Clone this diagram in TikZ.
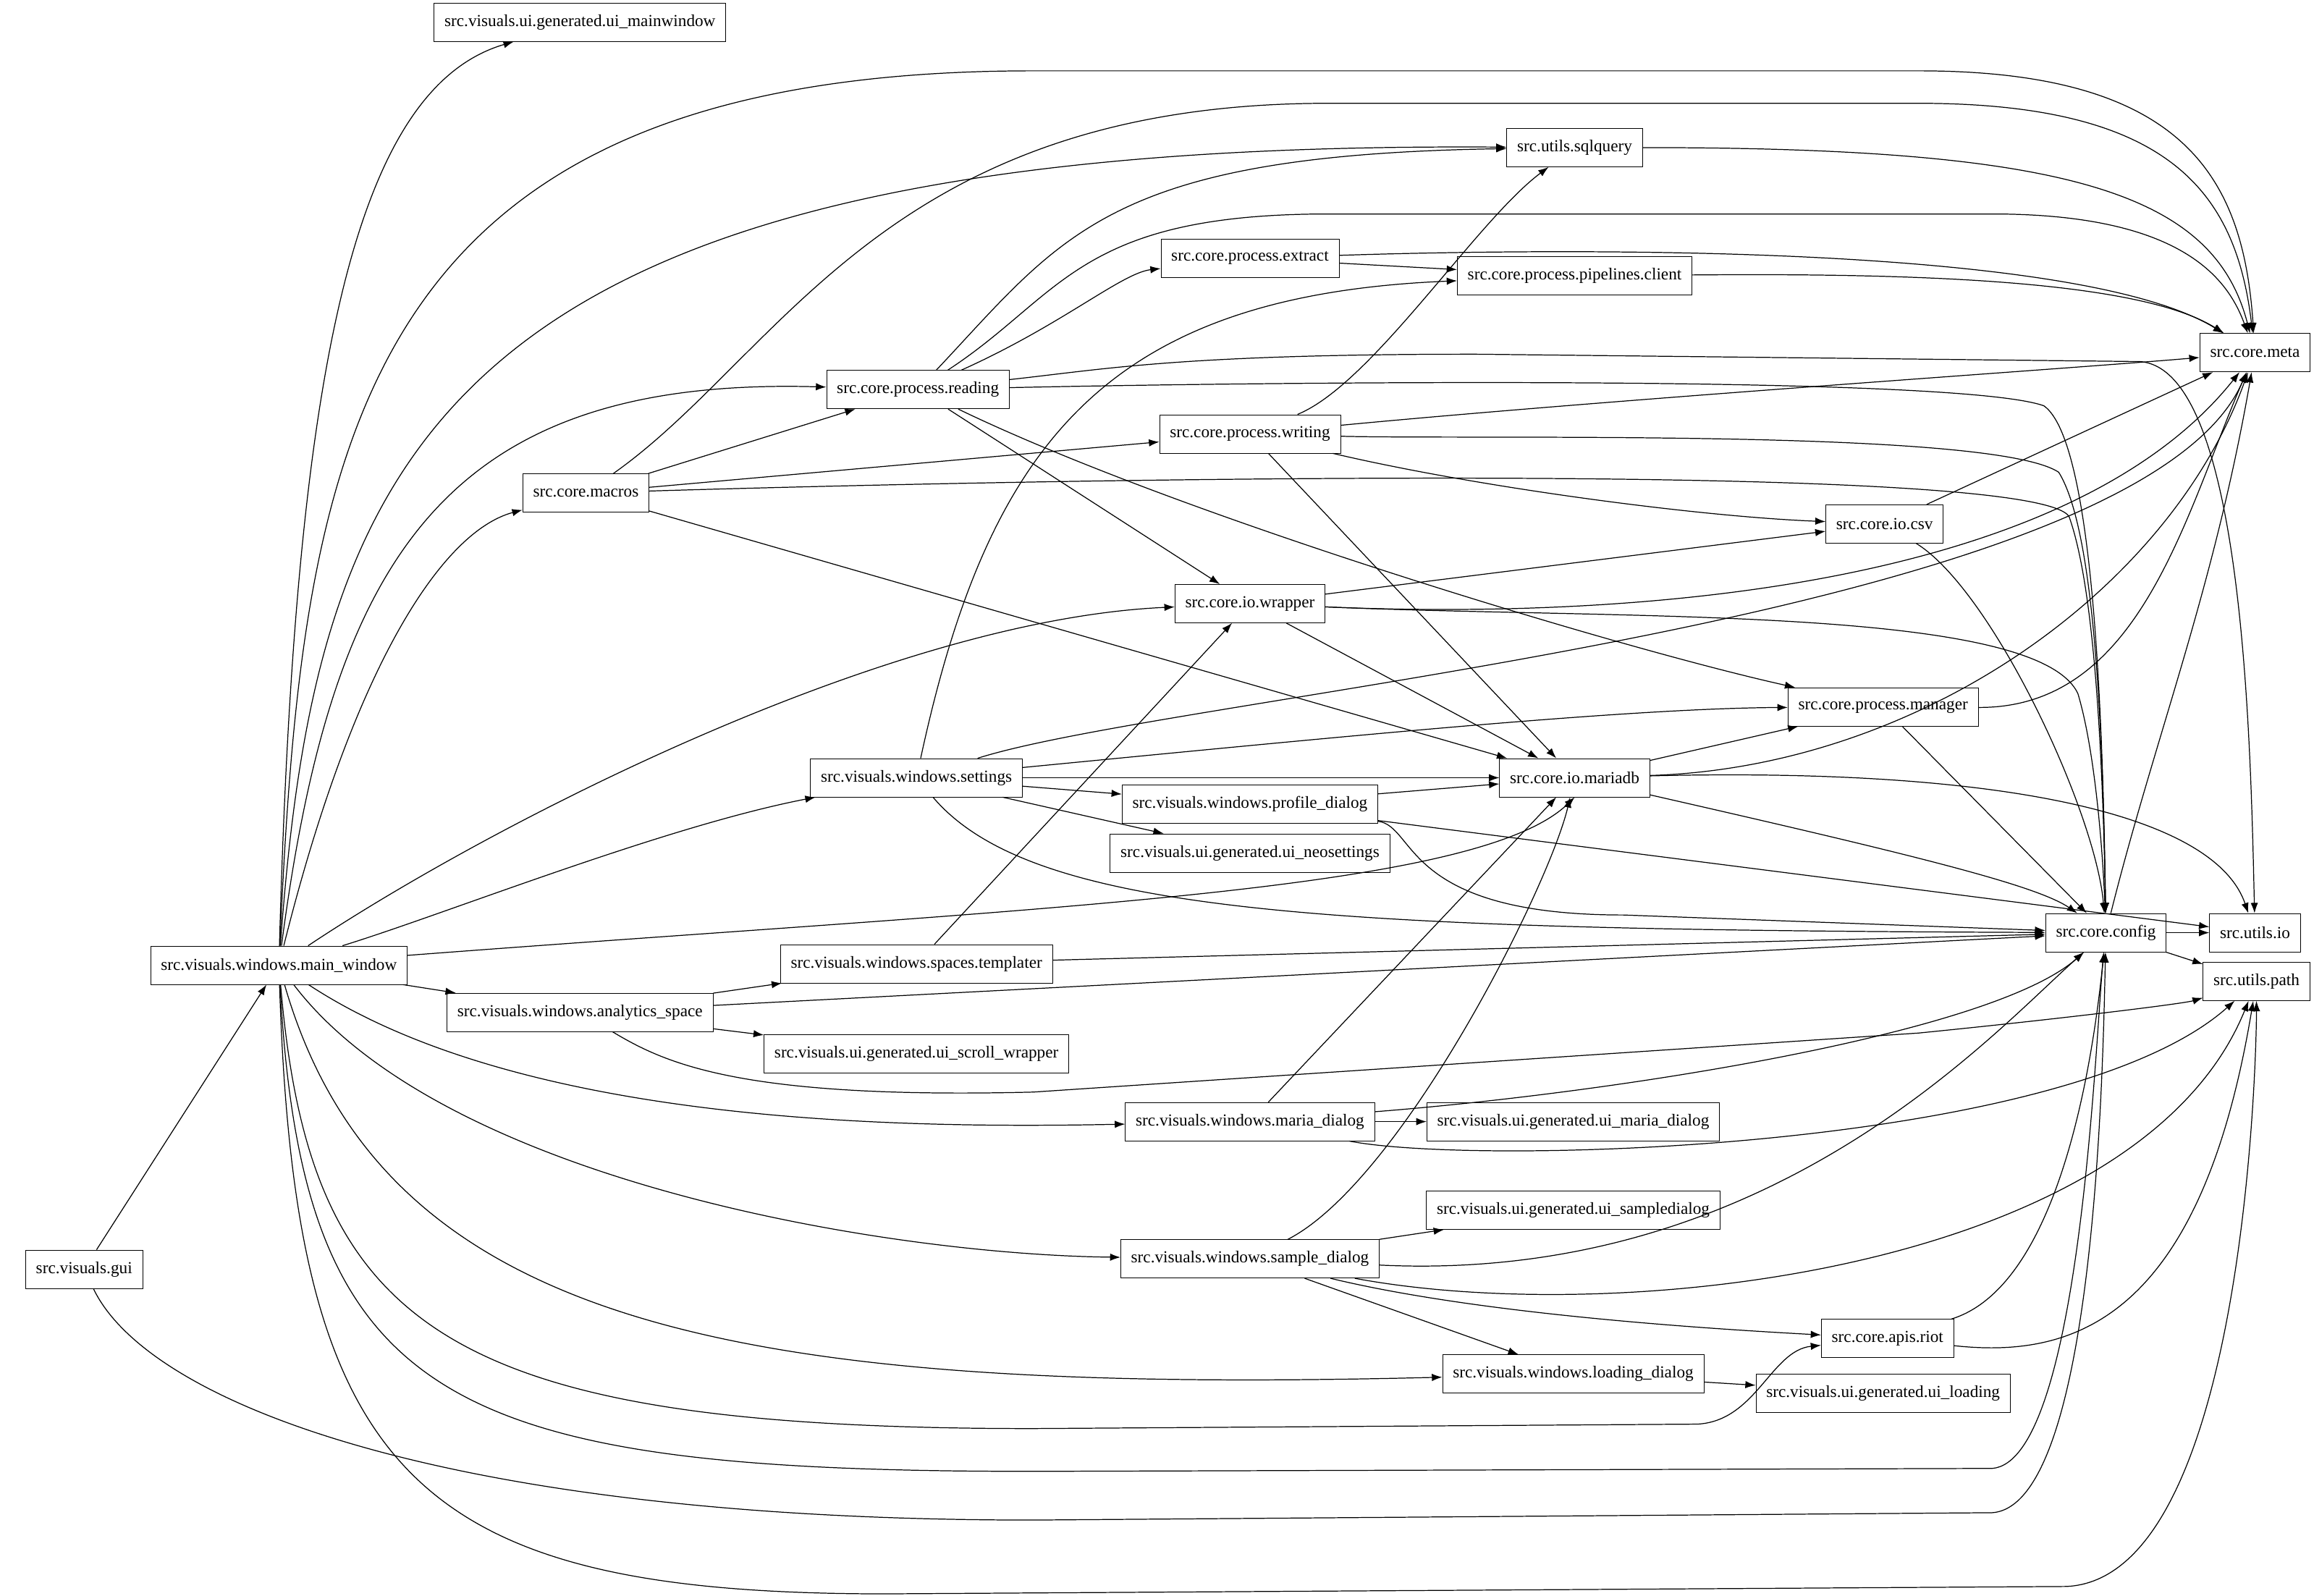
\documentclass[tikz,border=0pt]{standalone}
\usepackage{fontspec}
\setmainfont{Liberation Serif}
\usetikzlibrary{arrows.meta}
\begin{document}
\begin{tikzpicture}[x=1pt,y=-1pt,
 bx/.style={draw,minimum height=26pt,inner xsep=7pt,font=\fontsize{11.4}{13}\selectfont},
 e/.style={-{Latex[length=7pt,width=5pt]},line width=0.6pt}]
\useasboundingbox (0,0) rectangle (1568,1081);
\node[bx] (uimw) at (393,15) {src.visuals.ui.generated.ui\_mainwindow};
\node[bx] (sql) at (1067,100) {src.utils.sqlquery};
\node[bx] (extract) at (847,175) {src.core.process.extract};
\node[bx] (pipe) at (1067,187) {src.core.process.pipelines.client};
\node[bx] (meta) at (1528,239) {src.core.meta};
\node[bx] (reading) at (622,264) {src.core.process.reading};
\node[bx] (writing) at (847,294) {src.core.process.writing};
\node[bx] (macros) at (397,334) {src.core.macros};
\node[bx] (csv) at (1277,355) {src.core.io.csv};
\node[bx] (wrapper) at (847,409) {src.core.io.wrapper};
\node[bx] (manager) at (1276,479) {src.core.process.manager};
\node[bx] (settings) at (621,527) {src.visuals.windows.settings};
\node[bx] (mariadb) at (1067,527) {src.core.io.mariadb};
\node[bx] (profile) at (847,545) {src.visuals.windows.profile\_dialog};
\node[bx] (neo) at (847,578) {src.visuals.ui.generated.ui\_neosettings};
\node[bx] (uio) at (1528,632) {src.utils.io};
\node[bx] (config) at (1427,632) {src.core.config};
\node[bx] (mw) at (189,654) {src.visuals.windows.main\_window};
\node[bx] (templ) at (621,653) {src.visuals.windows.spaces.templater};
\node[bx] (upath) at (1529,665) {src.utils.path};
\node[bx] (analytics) at (393,686) {src.visuals.windows.analytics\_space};
\node[bx] (scroll) at (621,714) {src.visuals.ui.generated.ui\_scroll\_wrapper};
\node[bx] (mdlg) at (847,760) {src.visuals.windows.maria\_dialog};
\node[bx] (uimaria) at (1066,760) {src.visuals.ui.generated.ui\_maria\_dialog};
\node[bx] (uisample) at (1066,820) {src.visuals.ui.generated.ui\_sampledialog};
\node[bx] (sdlg) at (847,853) {src.visuals.windows.sample\_dialog};
\node[bx] (gui) at (57,860) {src.visuals.gui};
\node[bx] (riot) at (1279,907) {src.core.apis.riot};
\node[bx] (loading) at (1066,931) {src.visuals.windows.loading\_dialog};
\node[bx] (uiload) at (1276,944) {src.visuals.ui.generated.ui\_loading};

% main_window
\draw[e] (mw) .. controls (200,250) and (240,60) .. (uimw);
\draw[e] (mw) .. controls (205,300) and (240,48) .. (700,48) -- (1300,48) .. controls (1480,48) and (1520,120) .. (meta);
\draw[e] (mw) .. controls (215,300) and (300,95) .. (sql);
\draw[e] (mw) .. controls (225,380) and (300,255) .. (reading);
\draw[e] (mw) .. controls (240,450) and (300,360) .. (macros);
\draw[e] (mw) .. controls (330,560) and (600,420) .. (wrapper);
\draw[e] (mw) .. controls (300,620) and (450,560) .. (settings);
\draw[e] (mw) .. controls (700,615) and (1000,605) .. (mariadb.south);
\draw[e] (mw) -- (analytics);
\draw[e] (mw) .. controls (350,760) and (600,765) .. (mdlg);
\draw[e] (mw) .. controls (300,800) and (600,850) .. (sdlg);
\draw[e] (mw) .. controls (260,900) and (500,945) .. (loading);
\draw[e] (mw) .. controls (210,900) and (300,968) .. (700,968) -- (1150,965) .. controls (1190,963) and (1200,915) .. (riot);
\draw[e] (mw) .. controls (205,950) and (300,997) .. (700,997) -- (1350,995) .. controls (1410,990) and (1420,700) .. (config);
\draw[e] (gui) .. controls (100,950) and (300,1030) .. (700,1030) -- (1350,1025) .. controls (1420,1020) and (1425,720) .. (config);
\draw[e] (mw) .. controls (200,1000) and (280,1080) .. (600,1080) -- (1400,1075) .. controls (1520,1070) and (1529,720) .. (upath);
\draw[e] (gui) -- (mw);
% macros
\draw[e] (macros) -- (reading);
\draw[e] (macros) -- (writing);
\draw[e] (macros) -- (mariadb);
\draw[e] (macros) .. controls (800,322) and (1380,315) .. (1402,350) .. controls (1420,400) and (1425,520) .. (config);
\draw[e] (macros) .. controls (530,240) and (600,70) .. (900,70) -- (1300,70) .. controls (1470,70) and (1515,130) .. (meta);
% reading
\draw[e] (reading) .. controls (720,160) and (750,105) .. (sql);
\draw[e] (reading) .. controls (720,200) and (730,145) .. (900,145) -- (1350,145) .. controls (1480,145) and (1510,190) .. (meta);
\draw[e] (reading) .. controls (720,220) and (760,185) .. (extract);
\draw[e] (reading) .. controls (750,250) and (800,240) .. (1000,240) -- (1450,245) .. controls (1520,250) and (1525,500) .. (uio);
\draw[e] (reading) .. controls (900,258) and (1330,255) .. (1385,275) .. controls (1420,300) and (1425,500) .. (config);
\draw[e] (reading) -- (wrapper);
\draw[e] (reading) .. controls (800,350) and (1100,440) .. (manager);
\draw[e] (extract) -- (pipe);
\draw[e] (extract) .. controls (1000,170) and (1400,160) .. (meta);
\draw[e] (pipe) .. controls (1300,185) and (1450,190) .. (meta);
\draw[e] (sql) .. controls (1400,100) and (1500,130) .. (meta);
% writing
\draw[e] (writing) .. controls (930,260) and (1000,150) .. (sql);
\draw[e] (writing) .. controls (1100,270) and (1400,250) .. (meta);
\draw[e] (writing) .. controls (1000,298) and (1350,290) .. (1395,320) .. controls (1420,360) and (1425,500) .. (config);
\draw[e] (writing) .. controls (1000,330) and (1150,350) .. (csv);
\draw[e] (writing) -- (mariadb);
\draw[e] (csv) -- (meta);
\draw[e] (csv) .. controls (1350,400) and (1420,550) .. (config);
\draw[e] (wrapper) -- (csv);
\draw[e] (wrapper) .. controls (1100,420) and (1400,400) .. (meta);
\draw[e] (wrapper) .. controls (1100,420) and (1380,410) .. (1408,470) .. controls (1420,510) and (1425,580) .. (config);
\draw[e] (wrapper) -- (mariadb);
% settings
\draw[e] (settings) .. controls (670,300) and (750,200) .. (pipe);
\draw[e] (settings) .. controls (800,470) and (1450,420) .. (meta);
\draw[e] (settings) .. controls (900,500) and (1100,480) .. (manager);
\draw[e] (settings) -- (mariadb);
\draw[e] (settings) -- (profile);
\draw[e] (settings) -- (neo);
\draw[e] (settings) .. controls (700,620) and (900,630) .. (config);
\draw[e] (manager) .. controls (1450,480) and (1480,350) .. (meta);
\draw[e] (manager) -- (config);
\draw[e] (mariadb) -- (manager);
\draw[e] (mariadb) .. controls (1300,520) and (1470,400) .. (meta);
\draw[e] (mariadb) .. controls (1350,520) and (1500,550) .. (uio);
\draw[e] (mariadb) .. controls (1300,580) and (1380,600) .. (config);
\draw[e] (profile) -- (mariadb);
\draw[e] (profile) -- (uio);
\draw[e] (profile) .. controls (960,560) and (950,620) .. (1100,620) -- (config);
\draw[e] (config) .. controls (1460,500) and (1500,400) .. (meta);
\draw[e] (config) -- (uio);
\draw[e] (config) -- (upath);
\draw[e] (templ) -- (wrapper);
\draw[e] (templ) -- (config);
\draw[e] (analytics) -- (templ);
\draw[e] (analytics) -- (scroll);
\draw[e] (analytics) -- (config);
\draw[e] (analytics) .. controls (450,720) and (500,745) .. (700,740) -- (1300,700) .. controls (1400,690) and (1480,680) .. (upath);
\draw[e] (mdlg) -- (mariadb);
\draw[e] (mdlg) -- (uimaria);
\draw[e] (mdlg) .. controls (1100,740) and (1350,700) .. (config);
\draw[e] (mdlg) .. controls (1000,790) and (1400,780) .. (upath);
\draw[e] (sdlg) .. controls (950,800) and (1050,600) .. (mariadb);
\draw[e] (sdlg) -- (uisample);
\draw[e] (sdlg) .. controls (1200,870) and (1350,700) .. (config);
\draw[e] (sdlg) .. controls (1100,900) and (1450,860) .. (upath);
\draw[e] (sdlg) .. controls (1000,890) and (1150,900) .. (riot);
\draw[e] (sdlg) -- (loading);
\draw[e] (riot) .. controls (1400,870) and (1420,700) .. (config);
\draw[e] (riot) .. controls (1400,920) and (1490,900) .. (upath);
\draw[e] (loading) -- (uiload);
\end{tikzpicture}
\end{document}
